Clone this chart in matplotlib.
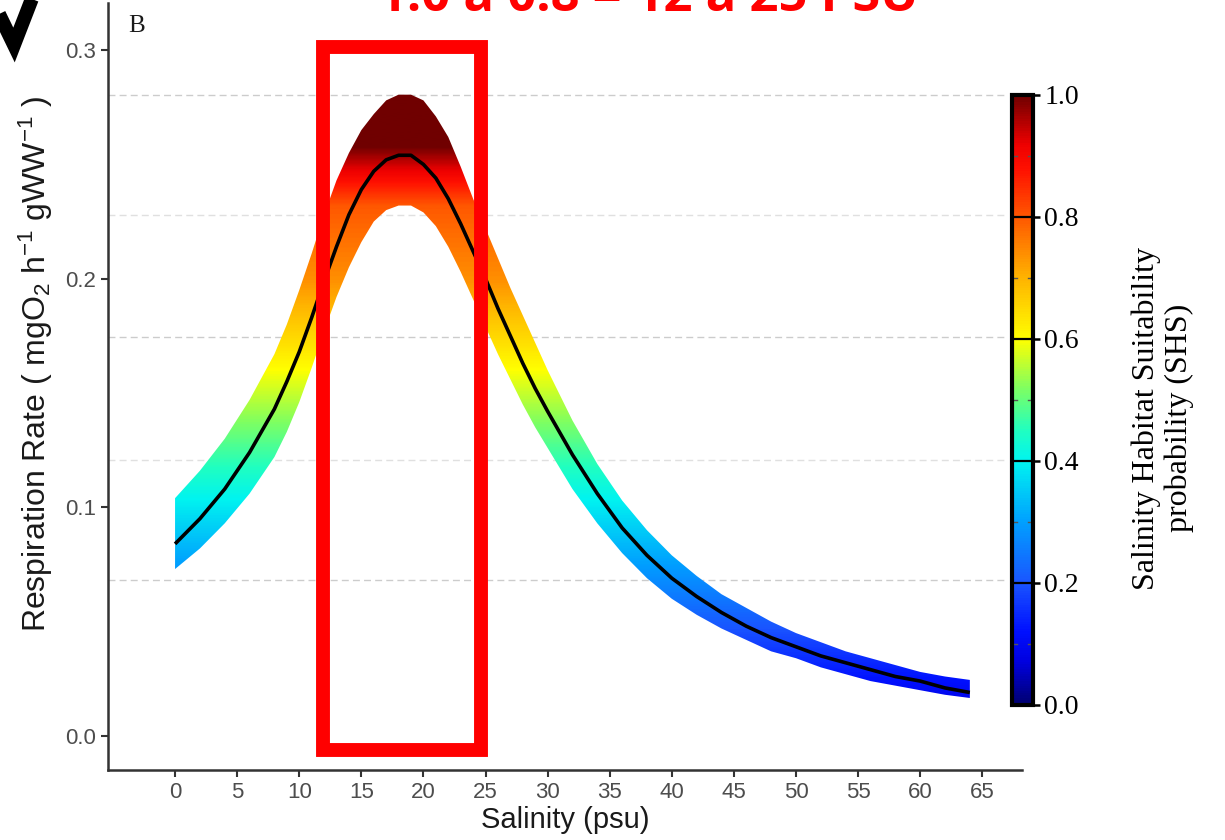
import numpy as np
import matplotlib
matplotlib.use("Agg")
import matplotlib.pyplot as plt
from matplotlib.colors import LinearSegmentedColormap, Normalize, FuncNorm
from matplotlib.cm import ScalarMappable
from matplotlib.lines import Line2D
from matplotlib.patches import Rectangle
import matplotlib.ticker as mticker

plt.rcParams['font.family'] = ['Liberation Sans', 'DejaVu Sans']
plt.rcParams['mathtext.fontset'] = 'custom'
plt.rcParams['mathtext.rm'] = 'Liberation Sans'
plt.rcParams['mathtext.it'] = 'Liberation Sans:italic'

# ---------------- data ----------------
salinity = [0, 2, 4, 6, 8, 9, 10, 11, 12, 13, 14, 15, 16, 17, 18, 19, 20, 21, 22, 23, 24,
            25, 26, 27, 28, 29, 30, 32, 34, 36, 38, 40, 42, 44, 46, 48, 50, 52, 54, 56,
            58, 60, 62, 64]
resp_mean = [0.084, 0.095, 0.108, 0.124, 0.143, 0.155, 0.168, 0.183, 0.199, 0.214, 0.228,
             0.239, 0.247, 0.252, 0.254, 0.254, 0.250, 0.244, 0.235, 0.224, 0.212,
             0.200, 0.187, 0.175, 0.163, 0.152, 0.142, 0.123, 0.106, 0.091, 0.079, 0.069,
             0.061, 0.054, 0.048, 0.043, 0.039, 0.035, 0.032, 0.029, 0.026, 0.024, 0.021, 0.019]
resp_upper = [0.104, 0.116, 0.130, 0.147, 0.167, 0.180, 0.195, 0.211, 0.228, 0.243, 0.255,
              0.265, 0.272, 0.278, 0.2805, 0.2805, 0.278, 0.271, 0.262, 0.249, 0.235,
              0.222, 0.209, 0.196, 0.184, 0.172, 0.160, 0.138, 0.119, 0.103, 0.090, 0.079,
              0.070, 0.062, 0.056, 0.050, 0.045, 0.041, 0.037, 0.034, 0.031, 0.028, 0.026, 0.0245]
resp_lower = [0.073, 0.082, 0.093, 0.106, 0.122, 0.133, 0.146, 0.161, 0.177, 0.192, 0.205,
              0.216, 0.225, 0.230, 0.232, 0.232, 0.229, 0.223, 0.214, 0.203, 0.191,
              0.179, 0.167, 0.156, 0.145, 0.135, 0.126, 0.108, 0.093, 0.080, 0.069, 0.060,
              0.053, 0.047, 0.042, 0.037, 0.034, 0.030, 0.027, 0.024, 0.022, 0.020, 0.018, 0.0166]
grid_levels = [0.2803, 0.2278, 0.1745, 0.1207, 0.0682]
x_ticks = [0, 5, 10, 15, 20, 25, 30, 35, 40, 45, 50, 55, 60, 65]
y_ticks = [0.0, 0.1, 0.2, 0.3]
y_ticklabels = ["0.0", "0.1", "0.2", "0.3"]
cbar_ticks = [0.0, 0.2, 0.4, 0.6, 0.8, 1.0]
highlight_range = [11.9, 24.6]
annotation = "1.0 à 0.8 = 12 à 25 PSU"

cmap_colors = [(0.0, '#000070'), (0.07, '#0000e0'), (0.12, '#0010ff'), (0.2, '#1a55ff'),
               (0.3, '#00a0ff'), (0.4, '#00f4f0'), (0.45, '#20ffc0'), (0.52, '#80ff60'),
               (0.6, '#ffff00'), (0.7, '#ffb400'), (0.8, '#ff5800'), (0.88, '#ff1000'),
               (0.92, '#ee0000'), (1.0, '#700000')]
cmap = LinearSegmentedColormap.from_list('shs', cmap_colors)

# colour scale of the ribbon (respiration value -> SHS colour)
ramp_y = [-0.01, 0.20, 0.232, 0.258]
ramp_s = [0.0, 0.74, 0.80, 1.0]
band_norm = FuncNorm((lambda v: np.interp(v, ramp_y, ramp_s),
                      lambda s: np.interp(s, ramp_s, ramp_y)), vmin=-0.01, vmax=0.258)

# ---------------- figure ----------------
fig = plt.figure(figsize=(12.25, 8.4), dpi=100)
ax = fig.add_axes([108/1225, 1 - 770/840, (1022-108)/1225, (770-3)/840])

xmin, xmax = -5.4, 68.2
ymin, ymax = -0.0149, 0.3206
ax.set_xlim(xmin, xmax)
ax.set_ylim(ymin, ymax)

for i, g in enumerate(grid_levels):
    ax.axhline(g, xmax=0.985, color='#cccccc' if i % 2 == 0 else '#e0e0e0', lw=1.0,
               ls=(0, (5, 3)), zorder=0.5)

x = np.array(salinity)
band = ax.fill_between(x, resp_lower, resp_upper, facecolor='none', edgecolor='none')
yy = np.linspace(ymin, ymax, 800).reshape(-1, 1)
img = ax.imshow(yy, cmap=cmap, norm=band_norm, origin='lower',
                extent=[xmin, xmax, ymin, ymax], aspect='auto', zorder=1,
                interpolation='bilinear')
path = band.get_paths()[0]
img.set_clip_path(path, transform=ax.transData)

ax.plot(x, resp_mean, color='black', lw=2.6, zorder=3, solid_capstyle='butt')

ax.add_patch(Rectangle((highlight_range[0], -0.0061), highlight_range[1] - highlight_range[0],
                       0.3013 + 0.0061, fill=False, edgecolor='#ff0000', lw=10,
                       joinstyle='miter', zorder=5, clip_on=False))

for s in ['top', 'right']:
    ax.spines[s].set_visible(False)
for s in ['left', 'bottom']:
    ax.spines[s].set_color('#333333')
    ax.spines[s].set_linewidth(1.8)

ax.set_xticks(x_ticks)
ax.set_yticks(y_ticks)
ax.set_yticklabels(y_ticklabels)
ax.tick_params(axis='both', colors='#333333', labelcolor='#4d4d4d', labelsize=16,
               length=5, width=1.5)
ax.set_xlabel('Salinity (psu)', fontsize=21, color='#1a1a1a', labelpad=2)
ax.set_ylabel('Respiration Rate ( mgO$_2$ h$^{-1}$ gWW$^{-1}$ )', fontsize=23,
              color='#1a1a1a')
ax.yaxis.set_label_coords(-0.058, 0.53)

# ---------------- colorbar ----------------
cax = fig.add_axes([1012/1225, 1 - 705/840, 21/1225, 610/840])
sm = ScalarMappable(norm=Normalize(0, 1), cmap=cmap)
cb = fig.colorbar(sm, cax=cax, ticks=cbar_ticks)
cb.outline.set_linewidth(3)
cb.outline.set_edgecolor('black')
cb.ax.set_yticklabels([f"{t:.1f}" for t in cbar_ticks], family=['Liberation Serif'],
                      fontsize=20)
cb.ax.tick_params(length=5, width=1.8, color='black', pad=3)
for t in cbar_ticks[1:-1]:
    cax.axhline(t, color='black', lw=1.6)
cax.yaxis.set_minor_locator(mticker.FixedLocator([0.1, 0.3, 0.5, 0.7, 0.9]))
cax.tick_params(which='minor', length=0)
for t in [0.1, 0.3, 0.5, 0.7, 0.9]:
    cax.plot([0, 0.25], [t, t], color='#555555', lw=1.0, transform=cax.get_yaxis_transform())
    cax.plot([0.75, 1.0], [t, t], color='#555555', lw=1.0, transform=cax.get_yaxis_transform())
cb.set_label('Salinity Habitat Suitability\nprobability (SHS)', family=['Liberation Serif'],
             fontsize=23, linespacing=1.15)
cax.yaxis.set_label_coords(5.7, 0.47)

# ---------------- annotations ----------------
fig.text(128/1225, 1 - 32/840, 'B', family=['Liberation Serif'], fontsize=18,
         color='#1a1a1a', va='baseline', ha='left')
fig.text(648/1225, 1 - 11/840, annotation, family=['Open Sans', 'DejaVu Sans'],
         fontweight='bold', fontsize=36.5, color='#ff0000', ha='center', va='baseline')

# hand-drawn black arrow tip (top-left corner)
fig.add_artist(Line2D([-2/1225, 14/1225, 33/1225], [1 - 12/840, 1 - 45/840, 1 + 4/840],
                      transform=fig.transFigure, color='black', lw=10,
                      solid_joinstyle='miter', solid_capstyle='butt'))

fig.savefig('out.png', dpi=100)
